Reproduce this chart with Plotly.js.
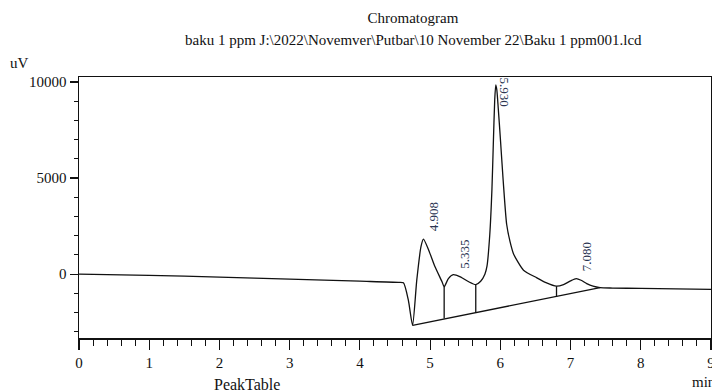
<!DOCTYPE html>
<html>
<head>
<meta charset="utf-8">
<script src="https://cdn.plot.ly/plotly-3.0.1.min.js"></script>
<style>html,body{margin:0;padding:0;background:#fff;}#chart{width:712px;height:392px;}</style>
</head>
<body>
<div id="chart"></div>
<script>
// Chromatogram signal (time in min, signal in uV)
var timeMin = [0, 1, 2, 3, 4, 4.55, 4.62, 4.69, 4.75, 4.81, 4.87, 4.905, 4.98, 5.07, 5.17, 5.20, 5.26, 5.33, 5.43, 5.55, 5.65,
  5.72, 5.78, 5.81, 5.85, 5.88, 5.90, 5.92, 5.935, 5.95, 5.97, 6.00, 6.04, 6.09, 6.14, 6.19, 6.33, 6.52, 6.65, 6.80,
  6.90, 7.00, 7.08, 7.15, 7.23, 7.32, 7.42, 7.6, 8.0, 8.5, 9.0];
var signalUV = [0, -60, -155, -260, -365, -425, -450, -1350, -2660, -310, 1430, 1820, 1250, 385, -395, -655, -230, -20, -135, -395, -540,
  -365, 0, 415, 2080, 4380, 6770, 9070, 9850, 9590, 8650, 7090, 4900, 2600, 1670, 1040, 210, -190, -440, -625,
  -540, -345, -230, -315, -490, -625, -700, -720, -740, -760, -790];

// Integration baseline and peak drop lines
var baselineT = [4.75, 7.42];
var baselineUV = [-2660, -700];
var dropT = [5.20, 5.65, 6.80];
var dropTopUV = [-655, -540, -625];
var dropBottomUV = [-2310, -2010, -1180];

// Peak labels
var peakT = [4.908, 5.335, 5.930, 7.080];
var peakUV = [1820, -20, 9850, -230];
var peakLabels = ["4.908", "5.335", "5.930", "7.080"];

// Axis ticks
var xTicks = [0, 1, 2, 3, 4, 5, 6, 7, 8, 9];
var yTicks = [0, 5000, 10000];

var serif = "Liberation Serif, Times New Roman, serif";
var lineCol = "#111";

var traces = [];
traces.push({x: timeMin, y: signalUV, type: "scatter", mode: "lines",
  line: {color: lineCol, width: 1.3, shape: "spline", smoothing: 0.6}, hoverinfo: "skip"});
traces.push({x: baselineT, y: baselineUV, type: "scatter", mode: "lines",
  line: {color: lineCol, width: 1.3}, hoverinfo: "skip"});
for (var i = 0; i < dropT.length; i++) {
  traces.push({x: [dropT[i], dropT[i]], y: [dropTopUV[i], dropBottomUV[i]], type: "scatter", mode: "lines",
    line: {color: lineCol, width: 1.3}, hoverinfo: "skip"});
}

var labelStyle = [
  {angle: -90, xs: 10, ys: 6, ya: "bottom"},
  {angle: -90, xs: 10, ys: 4, ya: "bottom"},
  {angle: 90, xs: 9, ys: -7, ya: "middle"},
  {angle: -90, xs: 10, ys: 5, ya: "bottom"}
];
var annotations = [];
for (var j = 0; j < peakT.length; j++) {
  annotations.push({x: peakT[j], y: peakUV[j], xref: "x", yref: "y", text: peakLabels[j], showarrow: false,
    textangle: labelStyle[j].angle, xanchor: "center", yanchor: labelStyle[j].ya,
    xshift: labelStyle[j].xs, yshift: labelStyle[j].ys,
    font: {family: serif, size: 13, color: "#2b3552"}});
}
annotations.push({text: "baku 1 ppm J:\\2022\\Novemver\\Putbar\\10 November 22\\Baku 1 ppm001.lcd",
  xref: "paper", yref: "paper", x: 0.530, y: 1.1418, xanchor: "center", yanchor: "middle",
  showarrow: false, font: {family: serif, size: 15, color: "#111"}});
annotations.push({text: "uV", xref: "paper", yref: "paper", x: -0.0934, y: 1.0536, xanchor: "center", yanchor: "middle",
  showarrow: false, font: {family: serif, size: 15, color: "#111"}});
annotations.push({text: "min", xref: "paper", yref: "paper", x: 0.967, y: -0.1686, xanchor: "left", yanchor: "middle",
  showarrow: false, font: {family: serif, size: 15, color: "#111"}});
annotations.push({text: "PeakTable", xref: "paper", yref: "paper", x: 0.2104, y: -0.180, xanchor: "left", yanchor: "middle",
  showarrow: false, font: {family: serif, size: 16, color: "#111"}});

var layout = {
  width: 712, height: 392,
  margin: {l: 79, r: 1, t: 77, b: 54},
  paper_bgcolor: "#fff", plot_bgcolor: "#fff",
  showlegend: false,
  title: {text: "Chromatogram",
    x: 0.58, xref: "container", xanchor: "center", y: 0.954, yref: "container", yanchor: "middle",
    font: {family: serif, size: 15, color: "#111"}},
  xaxis: {range: [0, 9], tickvals: xTicks, ticktext: xTicks.map(String), ticks: "outside", ticklen: 10, tickwidth: 1.2,
    tickcolor: "#111", showline: true, linecolor: "#111", linewidth: 1.5, mirror: true, showgrid: false, zeroline: false,
    ticklabeloverflow: "allow",
    minor: {dtick: 0.2, tick0: 0, ticks: "outside", ticklen: 6, tickwidth: 1, tickcolor: "#111", showgrid: false},
    tickfont: {family: serif, size: 15, color: "#111"}},
  yaxis: {range: [-3320, 10260], tickvals: yTicks, ticktext: yTicks.map(String), ticks: "outside", ticklen: 8, tickwidth: 1.2,
    tickcolor: "#111", showline: true, linecolor: "#111", linewidth: 1.5, mirror: true, showgrid: false, zeroline: false,
    minor: {dtick: 1000, tick0: 0, ticks: "outside", ticklen: 4, tickwidth: 1, tickcolor: "#111", showgrid: false},
    tickfont: {family: serif, size: 15, color: "#111"}},
  annotations: annotations
};

Plotly.newPlot("chart", traces, layout, {staticPlot: true, displayModeBar: false});
</script>
</body>
</html>
